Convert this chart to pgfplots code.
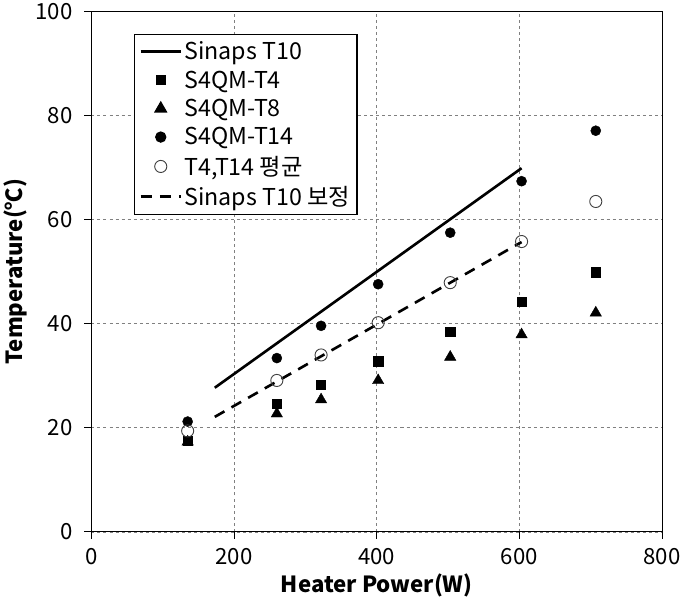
\documentclass[border=0pt]{standalone}
\usepackage{fontspec}
\setmainfont{Noto Sans CJK KR}
\usepackage{pgfplots}
\pgfplotsset{compat=1.18}
\begin{document}
\begin{tikzpicture}
\begin{axis}[
  scale only axis,
  width=565pt, height=515pt,
  xmin=0, xmax=800, ymin=0, ymax=100,
  xtick={0,200,400,600,800},
  ytick={0,20,40,60,80,100},
  tick align=outside,
  tick pos=left,
  major tick length=7pt,
  tick style={black, line width=0.8pt},
  axis line style={black, line width=1.2pt},
  grid=major,
  grid style={gray, dashed, line width=0.7pt},
  /pgf/number format/assume math mode=true,
  ticklabel style={font=\fontsize{22}{26}\selectfont},
  xticklabel style={yshift=-6pt},
  yticklabel style={xshift=-8pt},
  xlabel={\textbf{Heater Power(W)}},
  ylabel={\textbf{Temperature(℃)}},
  label style={font=\fontsize{22}{26}\selectfont},
  xlabel style={yshift=-2pt},
  ylabel style={yshift=2pt},
  legend style={at={(0.074,0.957)}, anchor=north west, draw=black, line width=1.2pt,
    font=\fontsize{23}{27}\selectfont, row sep=5.5pt, inner xsep=5pt, inner ysep=5pt, cells={anchor=west}},
  legend cell align=left,
]
\addplot[black, line width=2.6pt, no marks, legend image code/.code={\draw[black,line width=2.6pt] (0pt,0pt)--(40pt,0pt);}] coordinates {(173,27.7) (603,69.9)};
\addlegendentry{Sinaps T10}
\addplot[only marks, mark=square*, mark size=4.5pt, black, legend image code/.code={\draw[black, mark=square*, mark size=4.5pt] plot coordinates {(20pt,0pt)};}] coordinates {
(135,17.5) (260,24.7) (322,28.3) (402,32.8) (503,38.4) (603,44.3) (707,49.9)};
\addlegendentry{S4QM-T4}
\addplot[only marks, mark=triangle*, mark size=6.5pt, black, legend image code/.code={\draw[black, mark=triangle*, mark size=6.5pt] plot coordinates {(20pt,0pt)};}] coordinates {
(135,17.3) (260,22.7) (322,25.4) (402,29.1) (503,33.6) (603,37.9) (707,42.1)};
\addlegendentry{S4QM-T8}
\addplot[only marks, mark=*, mark size=5pt, black, legend image code/.code={\draw[black, mark=*, mark size=5pt] plot coordinates {(20pt,0pt)};}] coordinates {
(135,21.2) (260,33.4) (322,39.6) (402,47.6) (503,57.5) (603,67.4) (707,77.1)};
\addlegendentry{S4QM-T14}
\addplot[only marks, mark=o, mark size=6pt, mark options={draw=black!75, fill=white, line width=0.9pt}, legend image code/.code={\draw[mark=o, mark size=6pt, mark options={draw=black!75, fill=white, line width=0.9pt}] plot coordinates {(20pt,0pt)};}] coordinates {
(135,19.4) (260,29.1) (322,34.0) (402,40.2) (503,47.9) (603,55.8) (707,63.5)};
\addlegendentry{T4,T14 평균}
\addplot[black, line width=2.6pt, no marks, dash pattern=on 11pt off 8pt, legend image code/.code={\draw[black,line width=2.6pt, dash pattern=on 11pt off 8pt] (0pt,0pt)--(40pt,0pt);}] coordinates {(173,22.1) (603,55.7)};
\addlegendentry{Sinaps T10 보정}
\end{axis}
\end{tikzpicture}
\end{document}
